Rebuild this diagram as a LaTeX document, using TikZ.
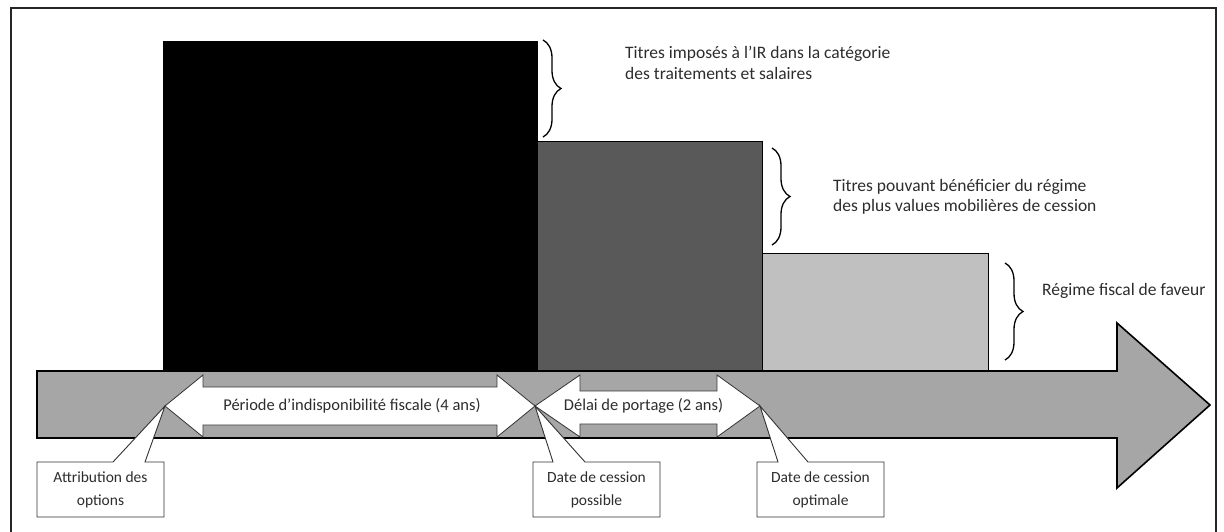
\documentclass[tikz,border=0pt]{standalone}
\usepackage{fontspec}
\setmainfont{Carlito}
\usetikzlibrary{decorations.pathreplacing}
\definecolor{txt}{RGB}{45,45,45}
\definecolor{bigarrow}{RGB}{166,166,166}
\definecolor{darkbar}{RGB}{89,89,89}
\definecolor{lightbar}{RGB}{192,192,192}
\definecolor{edge}{RGB}{50,50,50}
\begin{document}
\begin{tikzpicture}[x=1pt,y=-1pt,
  frame/.style={draw=black!85,line width=2pt},
  bar/.style={draw=black,line width=1pt},
  timeline/.style={fill=bigarrow,draw=black,line width=1.6pt,line join=miter},
  period/.style={fill=white,draw=edge,line width=0.8pt},
  periodtext/.style={text=txt,font=\fontsize{16.5}{18}\selectfont,inner sep=0pt},
  callbox/.style={fill=white,draw=edge,line width=0.9pt},
  calltext/.style={text=txt,font=\fontsize{15.5}{23}\selectfont,align=center,inner sep=0pt},
  sidetext/.style={text=txt,font=\fontsize{17.5}{20.5}\selectfont,align=left,anchor=west,inner sep=0pt},
  bracestyle/.style={draw=black,line width=1.3pt,decorate,decoration={brace,amplitude=18pt}}]
\useasboundingbox (0,0) rectangle (1224,532);
% frame
\draw[frame] (11,540) -- (11,8) -- (1216,8) -- (1216,540);
% bars
\path[bar,fill=black] (163,42) rectangle (537,370);
\path[bar,fill=darkbar] (537,142) rectangle (762,370);
\path[bar,fill=lightbar] (762,253) rectangle (988,370);
% timeline arrow
\path[timeline] (37,371) -- (1117,371) -- (1117,323) -- (1210,405) -- (1117,488) -- (1117,438) -- (37,438) -- cycle;
% period arrows
\coordinate (t1) at (165,406);
\coordinate (t2) at (535,406);
\coordinate (t3) at (760,406);
\path[period] (t1) -- (203,375) -- (203,387) -- (497,387) -- (497,375) -- (t2) -- (497,437) -- (497,425) -- (203,425) -- (203,437) -- cycle;
\path[period] (t2) -- (580,375) -- (580,391) -- (717,391) -- (717,375) -- (t3) -- (717,437) -- (717,424) -- (580,424) -- (580,437) -- cycle;
\node[periodtext] (p1) at (352,406) {Période d’indisponibilité fiscale (4 ans)};
\node[periodtext] (p2) at (643.5,406) {Délai de portage (2 ans)};
% callouts
\path[callbox] (37,462) -- (113,462) -- (t1) -- (145,462) -- (164,462) -- (164,517) -- (37,517) -- cycle;
\node[calltext] (c1) at (100.5,489.5) {Attribution des\\options};
\path[callbox] (533,462) -- (553,462) -- (t2) -- (585,462) -- (660,462) -- (660,517) -- (533,517) -- cycle;
\node[calltext] (c2) at (596.5,489.5) {Date de cession\\possible};
\path[callbox] (757,462) -- (778,462) -- (t3) -- (808,462) -- (884,462) -- (884,517) -- (757,517) -- cycle;
\node[calltext] (c3) at (820.5,489.5) {Date de cession\\optimale};
% braces
\draw[bracestyle] (543,40) -- (543,137);
\draw[bracestyle] (772,148) -- (772,245);
\draw[bracestyle] (1005,263) -- (1005,360);
% labels
\node[sidetext] (l1) at (625,63) {Titres imposés à l’IR dans la catégorie\\des traitements et salaires};
\node[sidetext] (l2) at (833,197) {Titres pouvant bénéficier du régime\\des plus values mobilières de cession};
\node[sidetext] (l3) at (1042,291) {Régime fiscal de faveur};
\end{tikzpicture}
\end{document}
